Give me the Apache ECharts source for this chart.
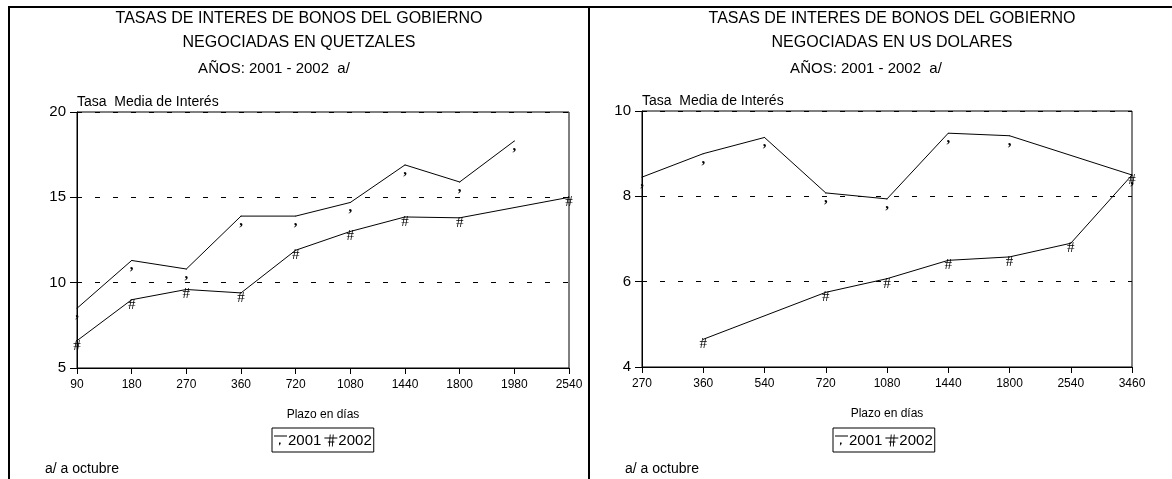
<!DOCTYPE html>
<html>
<head>
<meta charset="utf-8">
<script src="https://cdn.jsdelivr.net/npm/echarts@6/dist/echarts.min.js"></script>
<style>
html, body { margin: 0; padding: 0; background: #fff; }
#main { width: 1172px; height: 479px; }
</style>
</head>
<body>
<div id="main"></div>
<script>
// plazos (dias) y tasas medias
var plazoQ = ['90', '180', '270', '360', '720', '1080', '1440', '1800', '1980', '2540'];
var q2001 = [8.5, 11.3, 10.8, 13.9, 13.9, 14.7, 16.9, 15.9, 18.3, null];
var q2002 = [6.6, 9.0, 9.6, 9.4, 11.9, 13.0, 13.85, 13.8, null, 15.0];

var plazoD = ['270', '360', '540', '720', '1080', '1440', '1800', '2540', '3460'];
var d2001 = [8.45, 9.0, 9.38, 8.08, 7.94, 9.48, 9.42, null, 8.5];
var d2002 = [null, 4.65, null, 5.75, 6.07, 6.5, 6.58, 6.9, 8.5];

var FONT = 'Liberation Sans';

function mkSerie(name, data, idx, mark) {
    return {
        name: name,
        type: 'line',
        xAxisIndex: idx,
        yAxisIndex: idx,
        data: data,
        connectNulls: true,
        symbol: 'circle',
        symbolSize: 1,
        color: '#000',
        lineStyle: { color: '#000', width: 1 },
        label: {
            show: true,
            position: 'inside',
            offset: [0, 5],
            formatter: mark,
            fontFamily: 'Liberation Serif',
            fontSize: 15,
            fontWeight: mark == ',' ? 'bold' : 'normal',
            color: '#000'
        },
        emphasis: { disabled: true },
        silent: true
    };
}

function mkX(idx, cats) {
    return {
        type: 'category',
        gridIndex: idx,
        data: cats,
        boundaryGap: false,
        name: 'Plazo en días',
        nameLocation: 'middle',
        nameGap: 41,
        nameTextStyle: { fontFamily: FONT, fontSize: 12, color: '#000' },
        axisLine: { lineStyle: { color: '#000', width: 1 } },
        axisTick: { show: true, length: 6, lineStyle: { color: '#000' } },
        axisLabel: { fontFamily: FONT, fontSize: 12, color: '#000', margin: 11 },
        splitLine: { show: false }
    };
}

function mkY(idx, min, max, step) {
    return {
        type: 'value',
        gridIndex: idx,
        min: min,
        max: max,
        interval: step,
        name: 'Tasa  Media de Interés',
        nameLocation: 'end',
        nameGap: 3,
        nameTextStyle: { fontFamily: FONT, fontSize: 14, color: '#000', align: 'left', verticalAlign: 'bottom' },
        axisLine: { show: true, lineStyle: { color: '#000', width: 1 } },
        axisTick: { show: true, length: 7, lineStyle: { color: '#000' } },
        axisLabel: { fontFamily: FONT, fontSize: 15, color: '#000', margin: 11 },
        splitLine: { show: true, lineStyle: { color: '#000', type: [5, 13], width: 1 } }
    };
}

function mkTitle(text, x, y, size) {
    return {
        text: text,
        left: x,
        top: y,
        textAlign: 'center',
        padding: 0,
        textStyle: { fontFamily: FONT, fontSize: size, fontWeight: 'normal', color: '#000', lineHeight: 24 }
    };
}

var icon2001 = 'path://M0,0H13V1H0Z M5,7H6.6V8.6L5.2,10H4.8L5.4,8.6H5Z';
var icon2002 = 'path://M0,3H13V4H0Z M3.5,7H10V8H3.5Z M5.4,0H6.3L5.4,12H4.5Z M8.4,0H9.3L8.4,12H7.5Z';

function mkLegend(x) {
    return {
        left: x,
        top: 428,
        orient: 'horizontal',
        data: [{ name: '2001', icon: icon2001 }, { name: '2002', icon: icon2002 }],
        itemWidth: 13,
        itemHeight: 12,
        itemGap: 3,
        padding: [5, 2, 4, 2],
        borderColor: '#000',
        borderWidth: 1,
        selectedMode: false,
        textStyle: { fontFamily: FONT, fontSize: 15, color: '#000', padding: [0, 0, 0, -4] }
    };
}

var myChart = echarts.init(document.getElementById('main'));
myChart.setOption({
    animation: false,
    backgroundColor: '#fff',
    title: [
        mkTitle('TASAS DE INTERES DE BONOS DEL GOBIERNO\nNEGOCIADAS EN QUETZALES', 299, 7, 16),
        mkTitle('AÑOS: 2001 - 2002  a/', 274, 57, 15),
        mkTitle('TASAS DE INTERES DE BONOS DEL GOBIERNO\nNEGOCIADAS EN US DOLARES', 892, 7, 16),
        mkTitle('AÑOS: 2001 - 2002  a/', 866, 57, 15),
        { text: 'a/ a octubre', left: 45, top: 462, padding: 0,
          textStyle: { fontFamily: FONT, fontSize: 14, fontWeight: 'normal', color: '#000' } },
        { text: 'a/ a octubre', left: 625, top: 462, padding: 0,
          textStyle: { fontFamily: FONT, fontSize: 14, fontWeight: 'normal', color: '#000' } }
    ],
    legend: [mkLegend(272), mkLegend(833)],
    grid: [
        { left: 77, top: 112, width: 492, height: 256, show: true, borderColor: '#000', borderWidth: 1, backgroundColor: 'transparent' },
        { left: 642, top: 111, width: 490, height: 256, show: true, borderColor: '#000', borderWidth: 1, backgroundColor: 'transparent' }
    ],
    xAxis: [mkX(0, plazoQ), mkX(1, plazoD)],
    yAxis: [mkY(0, 5, 20, 5), mkY(1, 4, 10, 2)],
    series: [
        mkSerie('2001', q2001, 0, ','),
        mkSerie('2002', q2002, 0, '#'),
        mkSerie('2001', d2001, 1, ','),
        mkSerie('2002', d2002, 1, '#')
    ],
    graphic: [
        { type: 'line', shape: { x1: 9, y1: 7, x2: 1172, y2: 7 }, style: { stroke: '#000', lineWidth: 2 } },
        { type: 'line', shape: { x1: 9, y1: 6, x2: 9, y2: 479 }, style: { stroke: '#000', lineWidth: 2 } },
        { type: 'line', shape: { x1: 589, y1: 6, x2: 589, y2: 479 }, style: { stroke: '#000', lineWidth: 2 } }
    ]
});
</script>
</body>
</html>
